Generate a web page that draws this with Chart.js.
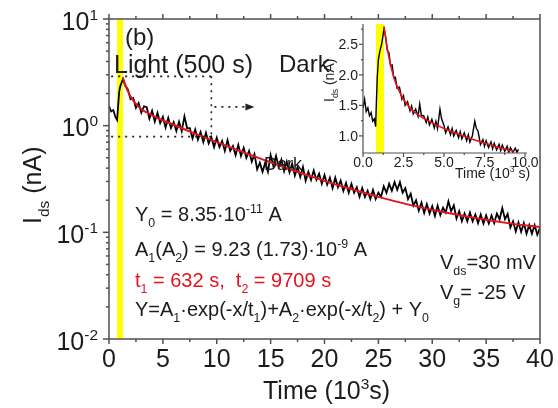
<!DOCTYPE html>
<html>
<head>
<meta charset="utf-8">
<script src="https://cdn.jsdelivr.net/npm/chart.js@4.4.1/dist/chart.umd.min.js"></script>
<style>
body{margin:0;background:#fff;}
#wrap{position:relative;width:558px;height:408px;background:#fff;}
#chart{position:absolute;left:0;top:0;}
#inset{position:absolute;left:310px;top:10px;}
</style>
</head>
<body>
<div id="wrap">
<canvas id="chart" width="558" height="408"></canvas>
<canvas id="inset" width="240" height="180"></canvas>
</div>
<script>
// measured current (nA) vs time (10^3 s)
const mainTime = [0,0.2,0.4,0.6,0.75,0.85,0.95,1.05,1.15,1.3,1.5,1.75,2,2.25,2.5,2.75,3,3.25,3.5,3.75,4,4.25,4.5,4.75,5,5.25,5.5,5.75,6,6.25,6.5,6.75,7,7.25,7.5,7.75,8,8.25,8.5,8.75,9,9.25,9.5,9.75,10,10.25,10.5,10.75,11,11.25,11.5,11.75,12,12.25,12.5,12.75,13,13.25,13.5,13.75,14,14.25,14.5,14.75,15,15.25,15.5,15.75,16,16.25,16.5,16.75,17,17.25,17.5,17.75,18,18.25,18.5,18.75,19,19.25,19.5,19.75,20,20.25,20.5,20.75,21,21.25,21.5,21.75,22,22.25,22.5,22.75,23,23.25,23.5,23.75,24,24.25,24.5,24.75,25,25.25,25.5,25.75,26,26.25,26.5,26.75,27,27.25,27.5,27.75,28,28.25,28.5,28.75,29,29.25,29.5,29.75,30,30.25,30.5,30.75,31,31.25,31.5,31.75,32,32.25,32.5,32.75,33,33.25,33.5,33.75,34,34.25,34.5,34.75,35,35.25,35.5,35.75,36,36.25,36.5,36.75,37,37.25,37.5,37.75,38,38.25,38.5,38.75,39,39.25,39.5,39.75,40];
const mainIds = [1.52,1.36,1.40,1.20,1.13,1.55,2.10,2.35,2.50,2.74,2.38,2.19,1.77,1.82,1.47,1.63,1.32,1.52,1.49,1.16,1.38,1.09,1.32,1.06,1.21,0.96,1.18,0.95,1.08,0.89,1.09,0.89,1.22,0.95,0.95,0.76,0.92,0.74,0.87,0.70,0.86,0.68,0.78,0.63,0.77,0.63,0.72,0.58,0.73,0.58,0.645,0.53,0.66,0.52,0.62,0.50,0.58,0.46,0.54,0.39,0.45,0.37,0.45,0.37,0.53,0.42,0.52,0.41,0.48,0.375,0.46,0.365,0.44,0.34,0.41,0.33,0.41,0.305,0.37,0.31,0.38,0.31,0.355,0.285,0.345,0.28,0.325,0.26,0.325,0.265,0.305,0.245,0.29,0.235,0.285,0.235,0.265,0.215,0.26,0.215,0.245,0.205,0.25,0.205,0.235,0.215,0.27,0.235,0.285,0.245,0.295,0.25,0.295,0.235,0.26,0.205,0.23,0.178,0.20,0.16,0.19,0.152,0.184,0.15,0.176,0.142,0.178,0.145,0.17,0.153,0.195,0.158,0.179,0.135,0.158,0.127,0.15,0.127,0.153,0.127,0.147,0.122,0.147,0.121,0.144,0.121,0.144,0.122,0.15,0.132,0.169,0.133,0.149,0.111,0.127,0.102,0.124,0.101,0.122,0.097,0.117,0.097,0.117,0.095,0.11];
// double exponential fit
const fitTime = [1.3,1.5,1.75,2,2.5,3,3.5,4,5,6,7,8,9,10,12,14,16,18,20,22,25,28,31,34,37,40];
const fitIds = [2.78,2.43,2.11,1.88,1.60,1.43,1.33,1.25,1.12,1.02,0.925,0.843,0.768,0.70,0.586,0.493,0.416,0.354,0.304,0.263,0.215,0.180,0.155,0.136,0.122,0.112];
// inset (linear scale)
const insetTime = [0,0.1,0.2,0.3,0.4,0.5,0.6,0.7,0.78,0.82,0.88,0.95,1.05,1.15,1.22,1.3,1.4,1.5,1.6,1.7,1.8,1.9,2,2.1,2.25,2.4,2.5,2.6,2.75,2.9,3,3.1,3.25,3.4,3.5,3.6,3.75,3.9,4,4.1,4.25,4.4,4.5,4.6,4.75,4.85,5,5.1,5.25,5.4,5.5,5.6,5.75,5.9,6,6.1,6.25,6.4,6.5,6.6,6.75,6.9,7,7.1,7.25,7.4,7.5,7.6,7.75,7.9,8,8.1,8.25,8.4,8.5,8.6,8.75,8.9,9,9.1,9.25,9.4,9.5,9.6];
const insetIds = [1.45,1.6,1.40,1.46,1.33,1.38,1.24,1.28,1.15,1.5,1.95,2.25,2.4,2.5,2.62,2.76,2.62,2.40,2.36,2.15,2.16,1.95,1.96,1.78,1.80,1.60,1.66,1.50,1.56,1.41,1.49,1.36,1.44,1.32,1.52,1.34,1.33,1.22,1.31,1.18,1.27,1.13,1.24,1.12,1.44,1.28,1.17,1.05,1.15,1.02,1.12,1.0,1.09,0.97,1.07,0.95,1.05,0.92,1.02,0.90,1.0,1.24,1.12,1.08,0.86,0.94,0.83,0.92,0.81,0.90,0.79,0.88,0.77,0.86,0.76,0.85,0.75,0.83,0.73,0.81,0.73,0.80,0.73,0.78];
const insetFitTime = [1.3,1.5,1.75,2,2.5,3,3.5,4,5,6,7,8,9,9.3];
const insetFitIds = [2.78,2.43,2.11,1.88,1.60,1.43,1.33,1.25,1.12,1.02,0.925,0.843,0.768,0.75];

const xTicks = [0,5,10,15,20,25,30,35,40];
const yDecades = [-2,-1,0,1];
const insetXTicks = [0,2.5,5,7.5,10];
const insetYTicks = [1.0,1.5,2.0,2.5];
const lightOn = 0.75, lightOff = 1.3;

const FONT = '"Liberation Sans", Arial, sans-serif';
const INK = '#1c1c1c';
const RED = '#e3141e';
const AXIS = '#505050';

// text with sub / superscripts
const drawRich = (ctx, parts, x, y, size, color, align) => {
  const piece = p => {
    let s = size, dy = 0;
    if (p[1] === 'sub') { s = size * 0.62; dy = size * 0.3; }
    if (p[1] === 'sup') { s = size * 0.62; dy = -size * 0.4; }
    return {s, dy};
  };
  let w = 0;
  parts.forEach(p => { ctx.font = piece(p).s + 'px ' + FONT; w += ctx.measureText(p[0]).width; });
  let cx = x;
  if (align === 'right') cx = x - w;
  if (align === 'center') cx = x - w / 2;
  ctx.save();
  ctx.fillStyle = color;
  ctx.textBaseline = 'alphabetic';
  ctx.textAlign = 'left';
  parts.forEach(p => {
    const o = piece(p);
    ctx.font = o.s + 'px ' + FONT;
    ctx.fillText(p[0], cx, y + o.dy);
    cx += ctx.measureText(p[0]).width;
  });
  ctx.restore();
};

const line = (ctx, x1, y1, x2, y2) => {
  ctx.beginPath(); ctx.moveTo(x1, y1); ctx.lineTo(x2, y2); ctx.stroke();
};

const mainDeco = {
  id: 'mainDeco',
  beforeDatasetsDraw(chart) {
    const {ctx, chartArea: a, scales: {x}} = chart;
    ctx.save();
    ctx.fillStyle = '#ffff00';
    ctx.fillRect(x.getPixelForValue(lightOn), a.top, x.getPixelForValue(lightOff) - x.getPixelForValue(lightOn), a.bottom - a.top);
    ctx.restore();
  },
  afterDatasetsDraw(chart) {
    const {ctx, chartArea: a, scales: {x, y}} = chart;
    ctx.save();
    // dotted zoom box + arrow
    ctx.strokeStyle = '#222';
    ctx.lineWidth = 1.6;
    ctx.setLineDash([2, 5]);
    const bx1 = x.getPixelForValue(0.2), bx2 = x.getPixelForValue(9.5);
    const by1 = y.getPixelForValue(2.9), by2 = y.getPixelForValue(0.79);
    line(ctx, bx1, by1, bx2, by1);
    line(ctx, bx1, by2, bx2, by2);
    line(ctx, bx2, by1, bx2, by2);
    const ay = y.getPixelForValue(1.5), ax = x.getPixelForValue(13.5);
    line(ctx, bx2 + 3, ay, ax - 8, ay);
    ctx.setLineDash([]);
    ctx.fillStyle = '#222';
    ctx.beginPath(); ctx.moveTo(ax, ay); ctx.lineTo(ax - 9, ay - 3.5); ctx.lineTo(ax - 9, ay + 3.5); ctx.closePath(); ctx.fill();

    // frame
    ctx.strokeStyle = AXIS;
    ctx.lineWidth = 1.5;
    ctx.strokeRect(a.left, a.top, a.right - a.left, a.bottom - a.top);
    // x ticks, bottom and top
    for (let v = 0; v <= 40; v += 2.5) {
      const px = x.getPixelForValue(v);
      const len = v % 5 === 0 ? 5 : 3;
      line(ctx, px, a.bottom, px, a.bottom + len);
      line(ctx, px, a.top, px, a.top - len);
    }
    // y ticks (log)
    yDecades.forEach(d => {
      const py = y.getPixelForValue(Math.pow(10, d));
      line(ctx, a.left, py, a.left - 6, py);
      if (d < 1) {
        for (let m = 2; m < 10; m++) {
          const pm = y.getPixelForValue(m * Math.pow(10, d));
          line(ctx, a.left, pm, a.left - 3, pm);
        }
      }
    });
    ctx.restore();

    // tick labels
    xTicks.forEach(v => {
      drawRich(ctx, [[String(v)]], x.getPixelForValue(v), a.bottom + 28, 25, INK, 'center');
    });
    yDecades.forEach(d => {
      drawRich(ctx, [['10'], [String(d), 'sup']], 98, y.getPixelForValue(Math.pow(10, d)) + 10.5, 25, INK, 'right');
    });
    // axis titles
    drawRich(ctx, [['Time (10'], ['3', 'sup'], ['s)']], 263, 399, 25, INK, 'left');
    ctx.save();
    ctx.translate(41, 224);
    ctx.rotate(-Math.PI / 2);
    drawRich(ctx, [['I'], ['ds', 'sub'], [' (nA)']], 0, 0, 25, INK, 'left');
    ctx.restore();

    // labels
    drawRich(ctx, [['(b)']], 125, 45, 24, INK, 'left');
    drawRich(ctx, [['Light (500 s)']], 114, 73, 25, INK, 'left');
    drawRich(ctx, [['Dark']], 279, 72, 24, INK, 'left');
    drawRich(ctx, [['Dark']], 264, 170, 18, INK, 'left');
    drawRich(ctx, [['Y'], ['0', 'sub'], [' = 8.35·10'], ['-11', 'sup'], [' A']], 135, 221, 20, INK, 'left');
    drawRich(ctx, [['A'], ['1', 'sub'], ['(A'], ['2', 'sub'], [') = 9.23 (1.73)·10'], ['-9', 'sup'], [' A']], 135, 256, 20, INK, 'left');
    drawRich(ctx, [['t'], ['1', 'sub'], [' = 632 s,  t'], ['2', 'sub'], [' = 9709 s']], 135, 287, 20, RED, 'left');
    drawRich(ctx, [['Y=A'], ['1', 'sub'], ['·exp(-x/t'], ['1', 'sub'], [')+A'], ['2', 'sub'], ['·exp(-x/t'], ['2', 'sub'], [') + Y'], ['0', 'sub']], 135, 316, 20, INK, 'left');
    drawRich(ctx, [['V'], ['ds', 'sub'], ['=30 mV']], 440, 269, 20, INK, 'left');
    drawRich(ctx, [['V'], ['g', 'sub'], ['= -25 V']], 440, 299, 20, INK, 'left');
  }
};

const insetDeco = {
  id: 'insetDeco',
  beforeDatasetsDraw(chart) {
    const {ctx, chartArea: a, scales: {x}} = chart;
    ctx.save();
    ctx.fillStyle = '#ffff00';
    ctx.fillRect(x.getPixelForValue(0.8), a.top - 2, x.getPixelForValue(lightOff) - x.getPixelForValue(0.8), a.bottom - a.top + 2);
    ctx.restore();
  },
  afterDatasetsDraw(chart) {
    const {ctx, chartArea: a, scales: {x, y}} = chart;
    ctx.save();
    ctx.strokeStyle = AXIS;
    ctx.lineWidth = 1.2;
    line(ctx, a.left, a.top - 2, a.left, a.bottom);
    line(ctx, a.left, a.bottom, a.right + 2, a.bottom);
    for (let v = 0; v <= 10; v += 1.25) {
      const px = x.getPixelForValue(v);
      line(ctx, px, a.bottom, px, a.bottom + (v % 2.5 === 0 ? 4 : 2));
    }
    for (let v = 1.0; v <= 2.75; v += 0.25) {
      const py = y.getPixelForValue(v);
      line(ctx, a.left, py, a.left - (v % 0.5 === 0 ? 4 : 2), py);
    }
    ctx.restore();
    insetXTicks.forEach(v => {
      drawRich(ctx, [[v.toFixed(1)]], x.getPixelForValue(v), a.bottom + 14, 14, INK, 'center');
    });
    insetYTicks.forEach(v => {
      drawRich(ctx, [[v.toFixed(1)]], a.left - 5, y.getPixelForValue(v) + 5, 14, INK, 'right');
    });
    drawRich(ctx, [['Time (10'], ['3', 'sup'], [' s)']], 145, 168, 14, INK, 'left');
    ctx.save();
    ctx.translate(24, 92);
    ctx.rotate(-Math.PI / 2);
    drawRich(ctx, [['I'], ['ds', 'sub'], [' (nA)']], 0, 0, 14, INK, 'left');
    ctx.restore();
  }
};

const pts = (xs, ys) => xs.map((t, i) => ({x: t, y: ys[i]}));

new Chart(document.getElementById('chart'), {
  type: 'line',
  data: {
    datasets: [
      {data: pts(fitTime, fitIds), borderColor: RED, borderWidth: 2, pointRadius: 0, cubicInterpolationMode: 'monotone', order: 0},
      {data: pts(mainTime, mainIds), borderColor: '#000', borderWidth: 1.8, pointRadius: 0, tension: 0, order: 1}
    ]
  },
  options: {
    responsive: false,
    animation: false,
    devicePixelRatio: 1,
    layout: {padding: {left: 109, top: 19, right: 18, bottom: 69}},
    plugins: {legend: {display: false}, tooltip: {enabled: false}},
    scales: {
      x: {type: 'linear', min: 0, max: 40, display: false},
      y: {type: 'logarithmic', min: 0.01, max: 10, display: false}
    }
  },
  plugins: [mainDeco]
});

new Chart(document.getElementById('inset'), {
  type: 'line',
  data: {
    datasets: [
      {data: pts(insetFitTime, insetFitIds), borderColor: RED, borderWidth: 1.6, pointRadius: 0, cubicInterpolationMode: 'monotone', order: 0},
      {data: pts(insetTime, insetIds), borderColor: '#000', borderWidth: 1.4, pointRadius: 0, tension: 0, order: 1}
    ]
  },
  options: {
    responsive: false,
    animation: false,
    devicePixelRatio: 1,
    layout: {padding: {left: 53, top: 16, right: 25, bottom: 37}},
    plugins: {legend: {display: false}, tooltip: {enabled: false}},
    scales: {
      x: {type: 'linear', min: 0, max: 10, display: false},
      y: {type: 'linear', min: 0.72, max: 2.8, display: false}
    }
  },
  plugins: [insetDeco]
});
</script>
</body>
</html>
